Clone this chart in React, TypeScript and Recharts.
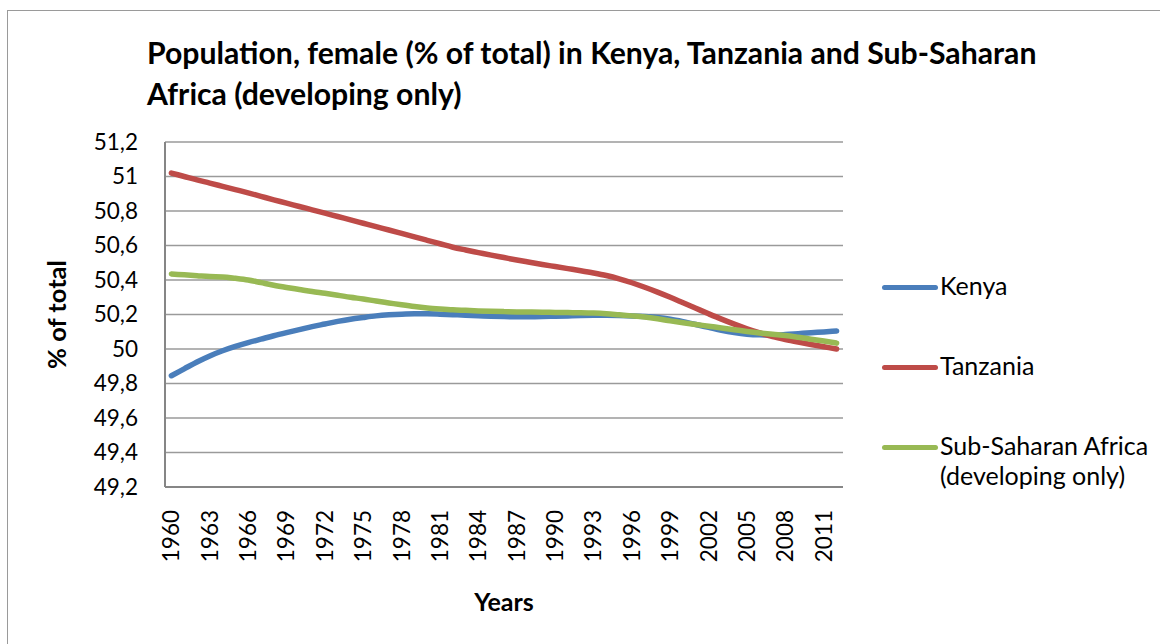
import React from "react";
import { LineChart, Line, XAxis, YAxis, CartesianGrid } from "recharts";

const years = [
  "1960", "1961", "1962", "1963", "1964", "1965", "1966", "1967", "1968", "1969",
  "1970", "1971", "1972", "1973", "1974", "1975", "1976", "1977", "1978", "1979",
  "1980", "1981", "1982", "1983", "1984", "1985", "1986", "1987", "1988", "1989",
  "1990", "1991", "1992", "1993", "1994", "1995", "1996", "1997", "1998", "1999",
  "2000", "2001", "2002", "2003", "2004", "2005", "2006", "2007", "2008", "2009",
  "2010", "2011", "2012",
];

const kenya = [
  49.845, 49.885, 49.925, 49.96, 49.99, 50.015, 50.037, 50.057, 50.077, 50.095,
  50.112, 50.13, 50.145, 50.16, 50.173, 50.183, 50.192, 50.198, 50.202, 50.204,
  50.204, 50.202, 50.199, 50.196, 50.193, 50.19, 50.188, 50.187, 50.187, 50.188,
  50.19, 50.192, 50.194, 50.195, 50.195, 50.194, 50.192, 50.188, 50.182, 50.172,
  50.158, 50.142, 50.125, 50.108, 50.095, 50.086, 50.082, 50.081, 50.084, 50.089,
  50.094, 50.099, 50.104,
];

const tanzania = [
  51.02, 51.0, 50.98, 50.962, 50.943, 50.924, 50.905, 50.885, 50.865, 50.846,
  50.826, 50.807, 50.788, 50.768, 50.749, 50.729, 50.709, 50.69, 50.67, 50.65,
  50.63, 50.61, 50.59, 50.574, 50.559, 50.544, 50.53, 50.516, 50.503, 50.49,
  50.478, 50.466, 50.454, 50.441, 50.426, 50.407, 50.384, 50.358, 50.33, 50.3,
  50.268, 50.236, 50.204, 50.173, 50.144, 50.117, 50.093, 50.072, 50.055, 50.04,
  50.026, 50.013, 50.0,
];

const ssa = [
  50.435, 50.43, 50.425, 50.42, 50.418, 50.41, 50.4, 50.385, 50.37, 50.357,
  50.345, 50.333, 50.323, 50.312, 50.3, 50.29, 50.278, 50.267, 50.256, 50.246,
  50.238, 50.232, 50.227, 50.224, 50.221, 50.219, 50.217, 50.215, 50.214, 50.213,
  50.212, 50.211, 50.21, 50.208, 50.204, 50.198, 50.192, 50.185, 50.175, 50.163,
  50.152, 50.142, 50.132, 50.122, 50.112, 50.102, 50.093, 50.085, 50.078, 50.068,
  50.057, 50.046, 50.034,
];

const yTicks = [49.2, 49.4, 49.6, 49.8, 50, 50.2, 50.4, 50.6, 50.8, 51, 51.2];

const series = [
  { key: "kenya", name: ["Kenya"], color: "#4A7EBB" },
  { key: "tanzania", name: ["Tanzania"], color: "#BE4B48" },
  { key: "ssa", name: ["Sub-Saharan Africa", "(developing only)"], color: "#98B954" },
];

const data = years.map((year, i) => ({
  year,
  kenya: kenya[i],
  tanzania: tanzania[i],
  ssa: ssa[i],
}));

const FONT = "Lato, 'Open Sans', sans-serif";

const YearTick = (props: any) => {
  const { x, y, payload } = props;
  return (
    <g transform={`translate(${x},${y})`}>
      <text transform="rotate(-90)" textAnchor="end" dy="0.35em" fontSize={22.5} fill="#000" fontFamily={FONT}>
        {payload.value}
      </text>
    </g>
  );
};

const fmt = (v: number) => String(Number(v.toFixed(1))).replace(".", ",");

export default function App() {
  return (
    <div style={{ position: "absolute", left: 0, top: 0, width: 1160, height: 644, overflow: "hidden", background: "#fff", fontFamily: FONT }}>
      <div style={{ position: "absolute", left: 7, top: 10, width: 1200, height: 700, border: "1.5px solid #9a9a9a" }} />
      <div style={{ position: "absolute", left: 147, top: 32, fontSize: 30.2, fontWeight: 700, lineHeight: "41px", whiteSpace: "nowrap", color: "#000" }}>
        Population, female (% of total) in Kenya, Tanzania and Sub-Saharan
        <br />
        Africa (developing only)
      </div>
      <div style={{ position: "absolute", left: 0, top: 0 }}>
        <LineChart width={1160} height={644} data={data} margin={{ top: 142, right: 317, bottom: 21, left: 0 }}>
          <CartesianGrid vertical={false} stroke="#9a9a9a" strokeWidth={1.5} />
          <XAxis
            dataKey="year"
            interval={2}
            height={136}
            tick={<YearTick />}
            tickLine={false}
            tickSize={0}
            tickMargin={23}
            padding={{ left: 6.4, right: 6.4 }}
            axisLine={{ stroke: "#868686", strokeWidth: 2 }}
            label={{ value: "Years", position: "insideBottom", offset: 12, fontSize: 25, fontWeight: 700, fill: "#000", fontFamily: FONT }}
          />
          <YAxis
            domain={[49.2, 51.2]}
            ticks={yTicks}
            width={165}
            tickFormatter={fmt}
            tickLine={false}
            tickSize={0}
            tickMargin={27}
            tick={{ fontSize: 22.5, fill: "#000", fontFamily: FONT }}
            axisLine={{ stroke: "#868686", strokeWidth: 2 }}
            label={{ value: "% of total", angle: -90, position: "insideLeft", offset: 57, fontSize: 25.5, fontWeight: 700, fill: "#000", fontFamily: FONT, style: { textAnchor: "middle" } }}
          />
          {series.map((s) => (
            <Line
              key={s.key}
              dataKey={s.key}
              type="monotone"
              stroke={s.color}
              strokeWidth={5.5}
              strokeLinecap="round"
              dot={false}
              activeDot={false}
              isAnimationActive={false}
            />
          ))}
        </LineChart>
      </div>
      <div style={{ position: "absolute", left: 882, top: 270 }}>
        {series.map((s) => (
          <div key={s.key} style={{ display: "flex", alignItems: "flex-start", height: 80 }}>
            <div style={{ width: 56, height: 5, borderRadius: 3, background: s.color, marginTop: 15, marginRight: 2 }} />
            <div style={{ fontSize: 25, lineHeight: "30px", color: "#000" }}>
              {s.name.map((n) => (
                <div key={n}>{n}</div>
              ))}
            </div>
          </div>
        ))}
      </div>
    </div>
  );
}
